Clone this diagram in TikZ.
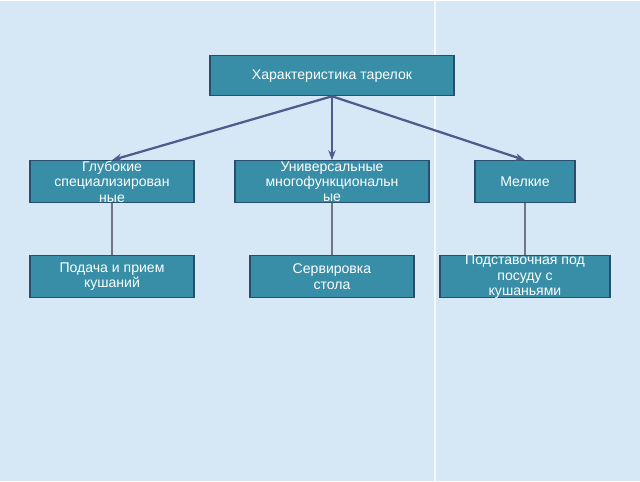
\documentclass[tikz,border=0pt]{standalone}
\usepackage{fontspec}
\setmainfont{Liberation Sans}
\usetikzlibrary{positioning,arrows.meta}
\definecolor{boxteal}{RGB}{56,142,166}
\definecolor{boxedge}{RGB}{40,80,110}
\definecolor{linkblue}{RGB}{80,90,140}
\definecolor{bgblue}{RGB}{214,232,246}

\begin{document}
\begin{tikzpicture}[x=0.025cm, y=-0.025cm]
    \tikzstyle{cell} = [rectangle, draw=boxedge, line width=0.8pt, fill=boxteal, inner sep=0pt]
    \tikzstyle{celltext} = [text=white, font=\fontsize{10}{11}\selectfont, align=center]
    \tikzstyle{link} = [draw=linkblue, line width=1.6pt]

    % background
    \fill [bgblue] (0,0) rectangle (640,480);
    \draw [white, line width=1pt, opacity=0.7] (435,0) -- (435,480);

    % top
    \node [cell, minimum width=6.1cm, minimum height=1cm, label={[celltext]center:Характеристика тарелок}] (top) at (332,75) {};

    % second row
    \node [cell, minimum width=4.1cm, minimum height=1.05cm, label={[celltext]center:Глубокие\\специализирован\\ные}] (deep) at (112,181) {};
    \node [cell, minimum width=4.85cm, minimum height=1.05cm, label={[celltext]center:Универсальные\\многофункциональн\\ые}] (univ) at (332,181) {};
    \node [cell, minimum width=2.5cm, minimum height=1.05cm, label={[celltext]center:Мелкие}] (small) at (525,181) {};

    % third row
    \node [cell, minimum width=4.1cm, minimum height=1.05cm, label={[celltext]center:Подача и прием\\кушаний}] (serve) at (112,276) {};
    \node [cell, minimum width=4.1cm, minimum height=1.05cm, label={[celltext]center:Сервировка\\стола}] (table) at (332,276) {};
    \node [cell, minimum width=4.25cm, minimum height=1.05cm, label={[celltext]center:Подставочная под\\посуду  с\\кушаньями}] (stand) at (525,276) {};

    % links
    \draw [link, -{Stealth[length=7pt]}] (top.south) -- (deep.north);
    \draw [link, -{Stealth[length=7pt]}] (top.south) -- (univ.north);
    \draw [link, -{Stealth[length=7pt]}] (top.south) -- (small.north);
    \draw [link, draw=gray!70!linkblue, line width=1pt] (deep) -- (serve);
    \draw [link, draw=gray!70!linkblue, line width=1pt] (univ) -- (table);
    \draw [link, draw=gray!70!linkblue, line width=1pt] (small) -- (stand);
\end{tikzpicture}
\end{document}
